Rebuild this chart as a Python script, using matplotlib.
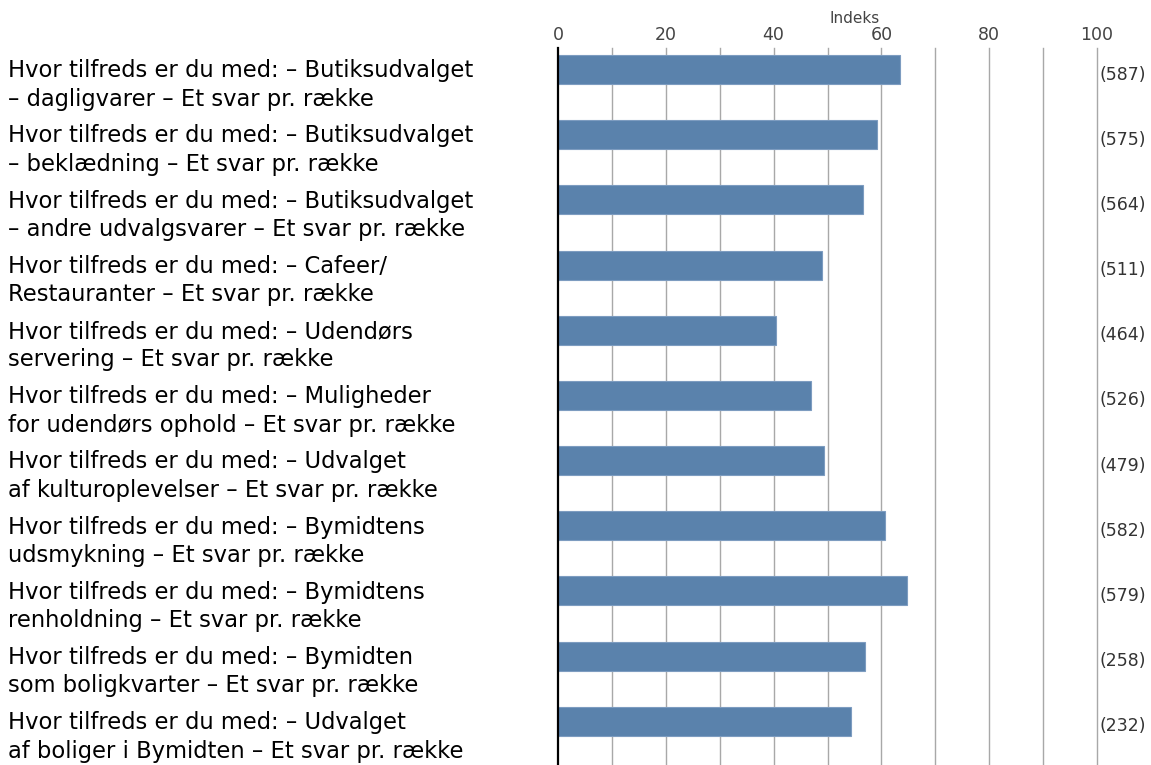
import matplotlib.pyplot as plt
import matplotlib.transforms as mtransforms

# data
labels = [
    "Hvor tilfreds er du med: – Butiksudvalget\n– dagligvarer – Et svar pr. række",
    "Hvor tilfreds er du med: – Butiksudvalget\n– beklædning – Et svar pr. række",
    "Hvor tilfreds er du med: – Butiksudvalget\n– andre udvalgsvarer – Et svar pr. række",
    "Hvor tilfreds er du med: – Cafeer/\nRestauranter – Et svar pr. række",
    "Hvor tilfreds er du med: – Udendørs\nservering – Et svar pr. række",
    "Hvor tilfreds er du med: – Muligheder\nfor udendørs ophold – Et svar pr. række",
    "Hvor tilfreds er du med: – Udvalget\naf kulturoplevelser – Et svar pr. række",
    "Hvor tilfreds er du med: – Bymidtens\nudsmykning – Et svar pr. række",
    "Hvor tilfreds er du med: – Bymidtens\nrenholdning – Et svar pr. række",
    "Hvor tilfreds er du med: – Bymidten\nsom boligkvarter – Et svar pr. række",
    "Hvor tilfreds er du med: – Udvalget\naf boliger i Bymidten – Et svar pr. række",
]
values = [63.4, 59.2, 56.5, 48.9, 40.5, 46.9, 49.4, 60.7, 64.7, 56.9, 54.3]
counts = [587, 575, 564, 511, 464, 526, 479, 582, 579, 258, 232]
ticks = [0, 20, 40, 60, 80, 100]

fig = plt.figure(figsize=(11.51, 7.65), dpi=100)
ax = fig.add_axes([558 / 1151, 0, (1097 - 558) / 1151, 1 - 48 / 765])

rows = list(range(len(values)))
ax.barh(rows, values, height=0.445, color="#5a82ac", edgecolor="#7d9cc0",
        linewidth=0.8, zorder=3)

ax.set_xlim(0, 100)
ax.set_ylim(10.67, -0.33)

# vertical grid every 10
for g in range(10, 101, 10):
    ax.axvline(g, color="#a8a8a8", linewidth=1, zorder=1, clip_on=False)
ax.axvline(0, color="black", linewidth=1.6, zorder=4, clip_on=False)

ax.xaxis.tick_top()
ax.set_xticks(ticks)
ax.set_xticklabels([str(t) for t in ticks], fontsize=12.5, color="#444444")
ax.tick_params(axis="x", length=0, pad=3)
ax.set_yticks([])
for s in ax.spines.values():
    s.set_visible(False)

ax.text(0.55, 1.0 + 22 / 717, "Indeks", transform=ax.transAxes,
        ha="center", va="bottom", fontsize=11, color="#444444")

# category labels on the left, two lines each
trans = mtransforms.blended_transform_factory(fig.transFigure, ax.transData)
trans = mtransforms.offset_copy(trans, fig=fig, x=0, y=-15.5, units="dots")
for r, lab in zip(rows, labels):
    ax.text(8 / 1151, r, lab, transform=trans, ha="left", va="center",
            fontsize=16.3, color="black", linespacing=1.3, clip_on=False)

# counts on the right
ctrans = mtransforms.offset_copy(ax.transData, fig=fig, x=0, y=-5, units="dots")
for r, c in zip(rows, counts):
    ax.text(100.4, r, f"({c})", transform=ctrans, ha="left", va="center",
            fontsize=12.5, color="#333333", clip_on=False)

fig.savefig("out.png", dpi=100, facecolor="white")
